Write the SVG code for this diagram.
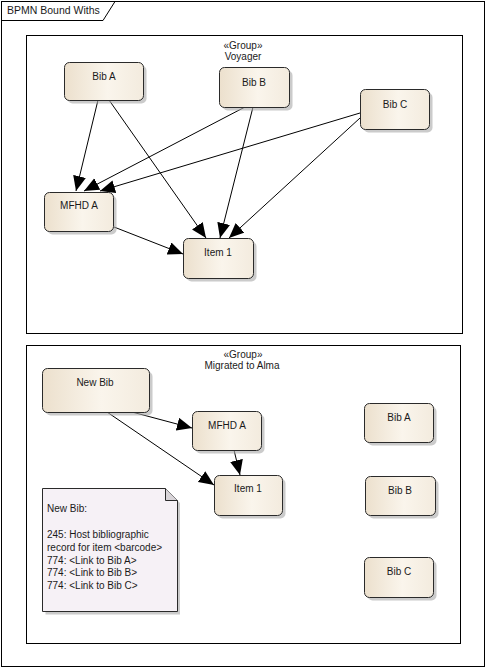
<svg xmlns="http://www.w3.org/2000/svg" width="487" height="669" viewBox="0 0 487 669">
<style>
text{font-family:"Liberation Sans",Arial,sans-serif;font-size:10px;fill:#1a1a1a}
.c{text-anchor:middle}
.frame{fill:none;stroke:#000;stroke-width:1}
.node{fill:url(#g);stroke:#2a2a2a;stroke-width:1}
.sh{fill:#a8a8a8;opacity:0.6}
.edge{stroke:#000;stroke-width:1;fill:none;marker-end:url(#arr)}
</style>
<defs>
<linearGradient id="g" x1="0" y1="0" x2="1" y2="0">
<stop offset="0" stop-color="#ece0cd"/>
<stop offset="0.55" stop-color="#faf5ec"/>
<stop offset="1" stop-color="#f3ebde"/>
</linearGradient>
<marker id="arr" markerUnits="userSpaceOnUse" markerWidth="17" markerHeight="14" refX="15" refY="6.5" orient="auto">
<path d="M0,0 L15,6.5 L0,13 Z" fill="#000"/>
</marker>
</defs>
<rect width="487" height="669" fill="#fff"/>
<g id="frame">
<rect class="frame" x="1.5" y="1.5" width="483" height="665"/>
<path class="frame" d="M1.5,20.5 H103 L115,1.5"/>
<text x="7" y="14" style="font-size:10.5px">BPMN Bound Withs</text>
</g>
<g id="group-voyager">
<rect class="frame" x="26.5" y="35.5" width="436" height="298"/>
<text class="c" x="243" y="49">«Group»</text>
<text class="c" x="243" y="60">Voyager</text>
</g>
<g id="group-alma">
<rect class="frame" x="26.5" y="345.5" width="434" height="298"/>
<text class="c" x="243" y="358">«Group»</text>
<text class="c" x="242" y="369">Migrated to Alma</text>
</g>
<g id="connectors">
<line class="edge" x1="98" y1="100" x2="76" y2="191"/>
<line class="edge" x1="109" y1="100" x2="206" y2="238"/>
<line class="edge" x1="245" y1="107" x2="84" y2="191"/>
<line class="edge" x1="253" y1="107" x2="220" y2="238"/>
<line class="edge" x1="360" y1="113" x2="100" y2="191"/>
<line class="edge" x1="360" y1="118" x2="229" y2="238"/>
<line class="edge" x1="114" y1="227" x2="183" y2="254"/>
<line class="edge" x1="132" y1="412" x2="192" y2="428"/>
<line class="edge" x1="107" y1="412" x2="214" y2="485"/>
<line class="edge" x1="234" y1="450" x2="240" y2="475"/>
</g>
<g id="bibA">
<rect class="sh" x="67.5" y="65.5" width="79" height="38" rx="5"/>
<rect class="node" x="64.5" y="62.5" width="79" height="38" rx="5"/>
<text class="c" x="104" y="80">Bib A</text>
</g>
<g id="bibB">
<rect class="sh" x="222.5" y="70.5" width="70" height="40" rx="5"/>
<rect class="node" x="219.5" y="67.5" width="70" height="40" rx="5"/>
<text class="c" x="254" y="86">Bib B</text>
</g>
<g id="bibC">
<rect class="sh" x="363.5" y="92.5" width="69" height="40" rx="5"/>
<rect class="node" x="360.5" y="89.5" width="69" height="40" rx="5"/>
<text class="c" x="395" y="108">Bib C</text>
</g>
<g id="mfhdA">
<rect class="sh" x="47.5" y="195.5" width="69" height="39" rx="5"/>
<rect class="node" x="44.5" y="192.5" width="69" height="39" rx="5"/>
<text class="c" x="79" y="209">MFHD A</text>
</g>
<g id="item1">
<rect class="sh" x="186.5" y="241.5" width="70" height="40" rx="5"/>
<rect class="node" x="183.5" y="238.5" width="70" height="40" rx="5"/>
<text class="c" x="218" y="256">Item 1</text>
</g>
<g id="newBib">
<rect class="sh" x="45.5" y="371.5" width="107" height="44" rx="5"/>
<rect class="node" x="42.5" y="368.5" width="107" height="44" rx="5"/>
<text class="c" x="95" y="386">New Bib</text>
</g>
<g id="mfhdA2">
<rect class="sh" x="195.5" y="414.5" width="69" height="39" rx="5"/>
<rect class="node" x="192.5" y="411.5" width="69" height="39" rx="5"/>
<text class="c" x="227" y="429">MFHD A</text>
</g>
<g id="item1b">
<rect class="sh" x="217.5" y="478.5" width="68" height="40" rx="5"/>
<rect class="node" x="214.5" y="475.5" width="68" height="40" rx="5"/>
<text class="c" x="248" y="492">Item 1</text>
</g>
<g id="bibA2">
<rect class="sh" x="367.5" y="406.5" width="69" height="39" rx="5"/>
<rect class="node" x="364.5" y="403.5" width="69" height="39" rx="5"/>
<text class="c" x="399" y="421">Bib A</text>
</g>
<g id="bibB2">
<rect class="sh" x="368.5" y="479.5" width="70" height="39" rx="5"/>
<rect class="node" x="365.5" y="476.5" width="70" height="39" rx="5"/>
<text class="c" x="400" y="494">Bib B</text>
</g>
<g id="bibC2">
<rect class="sh" x="367.5" y="560.5" width="69" height="40" rx="5"/>
<rect class="node" x="364.5" y="557.5" width="69" height="40" rx="5"/>
<text class="c" x="399" y="575">Bib C</text>
</g>
<g id="note">
<path d="M45.5,491.5 H168 L180,503 V614.5 H45.5 Z" fill="#a8a8a8" opacity="0.6"/>
<path d="M42.5,488.5 H165.5 L177.5,500.5 V611.5 H42.5 Z" fill="#f6f1f6" stroke="#2a2a2a" stroke-width="1"/>
<path d="M165.5,488.5 V500.5 H177.5" fill="#d8d4d8" stroke="#2a2a2a" stroke-width="1"/>
<text x="47" y="512">New Bib:</text>
<text x="47" y="538">245: Host bibliographic</text>
<text x="47" y="551">record for item &lt;barcode&gt;</text>
<text x="47" y="564">774: &lt;Link to Bib A&gt;</text>
<text x="47" y="576">774: &lt;Link to Bib B&gt;</text>
<text x="47" y="589">774: &lt;Link to Bib C&gt;</text>
</g>
</svg>
